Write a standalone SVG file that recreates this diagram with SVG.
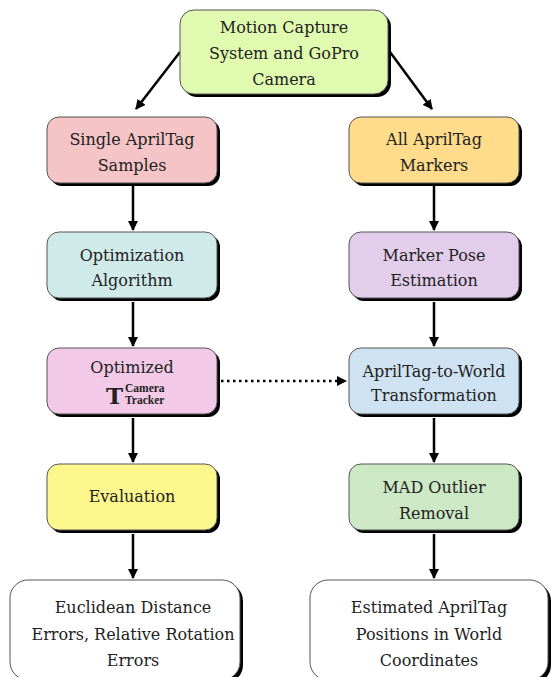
<svg xmlns="http://www.w3.org/2000/svg" width="557" height="677" viewBox="0 0 557 677">
<defs>
<marker id="ah" markerWidth="10" markerHeight="10" refX="9" refY="5" orient="auto" markerUnits="userSpaceOnUse">
<path d="M0,0 L10,5 L0,10 Z" fill="#000"/>
</marker>
<style>
.sh{fill:#000;}
.bx{stroke:#555;stroke-width:1;}
.t{font-family:'DejaVu Serif','Liberation Serif',serif;font-size:16px;fill:#222;text-anchor:middle;}
.c{stroke:#000;stroke-width:2.5;fill:none;marker-end:url(#ah);}
.d{stroke:#000;stroke-width:2.5;fill:none;stroke-dasharray:2.5 3.5;marker-end:url(#ah);}
</style>
</defs>
<rect width="557" height="677" fill="#fff"/>
<g id="connectors">
<path class="c" d="M180,52 L136,109"/>
<path class="c" d="M390,52 L432,109"/>
<path class="c" d="M133,186 L133,230"/>
<path class="c" d="M133,302 L133,346"/>
<path class="c" d="M133,418 L133,462"/>
<path class="c" d="M133,534 L133,578"/>
<path class="c" d="M434,186 L434,230"/>
<path class="c" d="M434,302 L434,346"/>
<path class="c" d="M434,418 L434,462"/>
<path class="c" d="M434,534 L434,578"/>
<path class="d" d="M221,381 L346,381"/>
</g>
<g id="n_top">
<rect class="sh" x="183" y="13" width="208" height="84" rx="14"/>
<rect class="bx" x="180" y="10" width="208" height="84" rx="14" fill="#e0fbb0"/>
<text class="t" x="284" y="33">Motion Capture</text>
<text class="t" x="284" y="59">System and GoPro</text>
<text class="t" x="284" y="85">Camera</text>
</g>
<g id="n_single">
<rect class="sh" x="50" y="120" width="170" height="66" rx="12"/>
<rect class="bx" x="47" y="117" width="170" height="66" rx="12" fill="#f4c4c6"/>
<text class="t" x="132" y="145">Single AprilTag</text>
<text class="t" x="132" y="171">Samples</text>
</g>
<g id="n_optalg">
<rect class="sh" x="50" y="235" width="170" height="66" rx="12"/>
<rect class="bx" x="47" y="232" width="170" height="66" rx="12" fill="#d0eaea"/>
<text class="t" x="132" y="261">Optimization</text>
<text class="t" x="132" y="286">Algorithm</text>
</g>
<g id="n_optimized">
<rect class="sh" x="50" y="351" width="170" height="66" rx="12"/>
<rect class="bx" x="47" y="348" width="170" height="66" rx="12" fill="#f2c9e6"/>
<text class="t" x="132" y="373">Optimized</text>
<text x="106" y="404" font-family="'DejaVu Serif',serif" font-weight="bold" font-size="23" fill="#222">T</text>
<text x="125" y="392" font-family="'Liberation Serif',serif" font-weight="bold" font-size="11.5" fill="#222">Camera</text>
<text x="125" y="404" font-family="'Liberation Serif',serif" font-weight="bold" font-size="11.5" fill="#222">Tracker</text>
</g>
<g id="n_eval">
<rect class="sh" x="50" y="467" width="170" height="66" rx="12"/>
<rect class="bx" x="47" y="464" width="170" height="66" rx="12" fill="#fdf78e"/>
<text class="t" x="132" y="502">Evaluation</text>
</g>
<g id="n_errors">
<rect class="sh" x="13" y="583" width="230" height="100" rx="18"/>
<rect class="bx" x="10" y="580" width="230" height="100" rx="18" fill="#fff"/>
<text class="t" x="133" y="613">Euclidean Distance</text>
<text class="t" x="133" y="640">Errors, Relative Rotation</text>
<text class="t" x="133" y="666">Errors</text>
</g>
<g id="n_all">
<rect class="sh" x="352" y="120" width="170" height="66" rx="12"/>
<rect class="bx" x="349" y="117" width="170" height="66" rx="12" fill="#fedc8c"/>
<text class="t" x="434" y="145">All AprilTag</text>
<text class="t" x="434" y="171">Markers</text>
</g>
<g id="n_pose">
<rect class="sh" x="352" y="235" width="170" height="66" rx="12"/>
<rect class="bx" x="349" y="232" width="170" height="66" rx="12" fill="#e2cdea"/>
<text class="t" x="434" y="261">Marker Pose</text>
<text class="t" x="434" y="286">Estimation</text>
</g>
<g id="n_world">
<rect class="sh" x="352" y="351" width="170" height="66" rx="12"/>
<rect class="bx" x="349" y="348" width="170" height="66" rx="12" fill="#cfe2f1"/>
<text class="t" x="434" y="377">AprilTag-to-World</text>
<text class="t" x="434" y="401">Transformation</text>
</g>
<g id="n_mad">
<rect class="sh" x="352" y="467" width="170" height="66" rx="12"/>
<rect class="bx" x="349" y="464" width="170" height="66" rx="12" fill="#cde8c4"/>
<text class="t" x="434" y="493">MAD Outlier</text>
<text class="t" x="434" y="519">Removal</text>
</g>
<g id="n_positions">
<rect class="sh" x="313" y="583" width="238" height="100" rx="18"/>
<rect class="bx" x="310" y="580" width="238" height="100" rx="18" fill="#fff"/>
<text class="t" x="429" y="613">Estimated AprilTag</text>
<text class="t" x="429" y="640">Positions in World</text>
<text class="t" x="429" y="666">Coordinates</text>
</g>
</svg>
